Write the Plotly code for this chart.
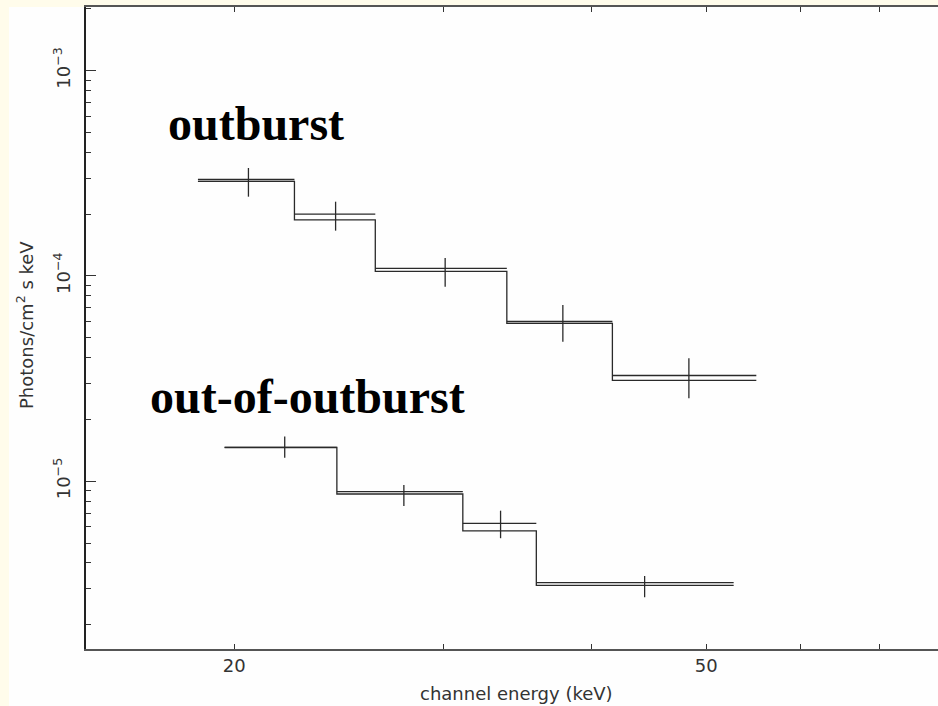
import plotly.graph_objects as go
import numpy as np

# ---- data (keV, photons/cm^2/s/keV) ----
ob_edges = [18.64, 22.48, 26.30, 33.95, 41.67, 55.10]
ob_xc = [20.56, 24.35, 30.12, 37.85, 48.34]
ob_data = [2.95e-4, 2.00e-4, 1.088e-4, 6.00e-5, 3.275e-5]
ob_err_hi = [3.357e-4, 2.300e-4, 1.224e-4, 7.22e-5, 3.972e-5]
ob_err_lo = [2.433e-4, 1.662e-4, 8.87e-5, 4.786e-5, 2.537e-5]
ob_model = [2.886e-4, 1.874e-4, 1.052e-4, 5.87e-5, 3.097e-5]

oo_edges = [19.63, 24.41, 31.17, 35.95, 52.73]
oo_xc = [22.06, 27.80, 33.54, 44.36]
oo_data = [1.464e-5, 8.90e-6, 6.24e-6, 3.207e-6]
oo_err_hi = [1.650e-5, 9.59e-6, 7.19e-6, 3.456e-6]
oo_err_lo = [1.303e-5, 7.58e-6, 5.28e-6, 2.723e-6]
oo_model = [1.46e-5, 8.67e-6, 5.73e-6, 3.114e-6]

x_tick_vals = [20, 50]
x_tick_text = ["20", "50"]
x_minor_vals = [30, 40, 60, 70, 80]
y_tick_vals = [1e-5, 1e-4, 1e-3]
y_tick_text = ["10<sup>\u22125</sup>", "10<sup>\u22124</sup>", "10<sup>\u22123</sup>"]
y_minor_vals = [m * 10.0 ** e for e in (-6, -5, -4, -3) for m in range(2, 10)]

LINE = "#2a2a2a"
fig = go.Figure()


def add_set(edges, xc, data, ehi, elo, model):
    # model step histogram
    fig.add_trace(go.Scatter(
        x=edges, y=list(model) + [model[-1]], mode="lines",
        line=dict(shape="hv", color=LINE, width=1.3), hoverinfo="skip",
        showlegend=False))
    # data crosses
    lo = edges[:-1]
    hi = edges[1:]
    fig.add_trace(go.Scatter(
        x=xc, y=data, mode="markers",
        marker=dict(size=1, color=LINE, opacity=0),
        error_x=dict(type="data", symmetric=False,
                     array=[h - c for h, c in zip(hi, xc)],
                     arrayminus=[c - l for l, c in zip(lo, xc)],
                     width=0, thickness=1.3, color=LINE),
        error_y=dict(type="data", symmetric=False,
                     array=[h - d for h, d in zip(ehi, data)],
                     arrayminus=[d - l for l, d in zip(elo, data)],
                     width=0, thickness=1.3, color=LINE),
        showlegend=False))


add_set(ob_edges, ob_xc, ob_data, ob_err_hi, ob_err_lo, ob_model)
add_set(oo_edges, oo_xc, oo_data, oo_err_hi, oo_err_lo, oo_model)

W, H = 938, 706
L, R, T, B = 86, 0, 7, 57
pw, ph = W - L - R, H - T - B


def px(xp):
    return (xp - L) / pw


def py(yp):
    return (H - B - yp) / ph


tick_font = dict(family="DejaVu Sans", size=18, color="#333333")

fig.update_xaxes(
    type="log", range=[np.log10(15.0), 1.8943],
    showline=True, linecolor="#555555", linewidth=1.6, mirror="ticks",
    showgrid=False, zeroline=False,
    tickmode="array", tickvals=x_tick_vals, ticktext=x_tick_text,
    ticks="inside", ticklen=5, tickwidth=1.2, tickcolor="#333333",
    tickfont=tick_font,
    minor=dict(tickmode="array", tickvals=x_minor_vals, ticks="inside",
               ticklen=5, tickwidth=1.2, tickcolor="#333333", showgrid=False),
)
fig.update_yaxes(
    type="log", range=[-5.817, -2.690],
    showline=True, linecolor="#222222", linewidth=1.6, mirror=False,
    showgrid=False, zeroline=False,
    tickmode="array", tickvals=y_tick_vals, ticktext=y_tick_text,
    ticks="inside", ticklen=10, tickwidth=1.2, tickcolor="#333333",
    tickangle=-90, ticklabelstandoff=7,
    tickfont=dict(family="DejaVu Sans", size=18, color="#333333"),
    minor=dict(tickmode="array", tickvals=y_minor_vals, ticks="inside",
               ticklen=5, tickwidth=1.2, tickcolor="#333333", showgrid=False),
)

annotations = [
    dict(text="<b>outburst</b>", x=px(166), y=py(123), xref="paper", yref="paper",
         xanchor="left", yanchor="middle", showarrow=False,
         font=dict(family="Liberation Serif", size=48, color="#000000")),
    dict(text="<b>out-of-outburst</b>", x=px(148), y=py(396), xref="paper",
         yref="paper", xanchor="left", yanchor="middle", showarrow=False,
         font=dict(family="Liberation Serif", size=48, color="#000000")),
    dict(text="channel energy (keV)", x=px(516), y=py(693), xref="paper", yref="paper",
         xanchor="center", yanchor="middle", showarrow=False,
         font=dict(family="DejaVu Sans", size=18, color="#333333")),
    dict(text="Photons/cm<sup>2</sup> s keV", x=px(25), y=py(325), xref="paper",
         yref="paper", xanchor="center", yanchor="middle", textangle=-90,
         showarrow=False,
         font=dict(family="DejaVu Sans", size=18, color="#333333")),
]

fig.update_layout(
    width=W, height=H, autosize=False,
    margin=dict(l=L, r=R, t=T, b=B, pad=0),
    paper_bgcolor="#FFFCEB", plot_bgcolor="#FEFEFE",
    showlegend=False,
    annotations=annotations,
    shapes=[dict(type="rect", xref="paper", yref="paper",
                 x0=px(9), x1=1.0, y0=py(H), y1=1.0,
                 fillcolor="#FEFEFE", line=dict(width=0), layer="below")],
)

fig.write_html(
    "out.html",
    config={"displayModeBar": False},
    post_script="document.body.style.margin='0';"
                "document.body.style.padding='0';"
                "document.body.style.overflow='hidden';"
                "document.body.style.background='#FFFCEB';",
)
